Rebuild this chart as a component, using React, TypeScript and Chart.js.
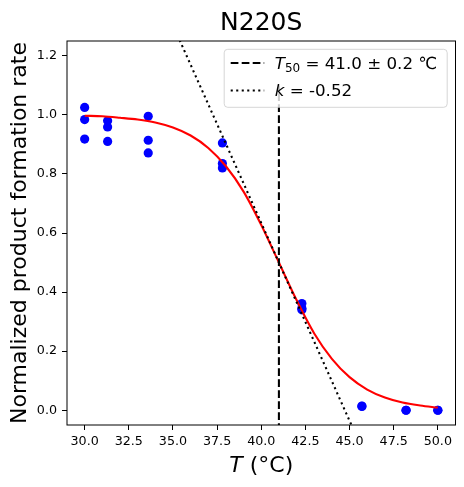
import React, { useEffect, useRef } from "react";
import { Chart, registerables } from "chart.js";

Chart.register(...registerables);

// Measured data (temperature in °C, normalized rate)
const tempPoints = [30, 30, 30, 31.3, 31.3, 31.3, 33.6, 33.6, 33.6, 37.8, 37.8, 37.8, 42.3, 42.3, 42.3, 45.7, 45.7, 48.2, 48.2, 50, 50];
const ratePoints = [1.025, 0.984, 0.918, 0.98, 0.959, 0.91, 0.995, 0.914, 0.871, 0.905, 0.835, 0.82, 0.361, 0.345, 0.34, 0.013, 0.014, 0.0, 0.0, 0.0, 0.0];

// Fitted curve
const fitTemps = [30, 31, 32, 33, 34, 35, 36, 37, 38, 39, 40, 41, 42, 43, 44, 45, 46, 47, 48, 49, 50];
const fitRates = [0.997, 0.995, 0.99, 0.984, 0.974, 0.957, 0.93, 0.888, 0.826, 0.74, 0.627, 0.5, 0.373, 0.26, 0.174, 0.112, 0.07, 0.043, 0.026, 0.016, 0.009];

// T50 marker line and tangent line
const t50Temps = [41.0, 41.0];
const t50Rates = [-0.07, 1.1];
const tangentTemps = [35.25, 45.3];
const tangentRates = [1.27, -0.076];

// Axes
const xRange = [29, 51];
const yRange = [-0.05, 1.25];
const xTicks = [30, 32.5, 35, 37.5, 40, 42.5, 45, 47.5, 50];
const yTicks = [0, 0.2, 0.4, 0.6, 0.8, 1.0, 1.2];

// Text
const titleText = "N220S";
const xLabelVar = "T";
const xLabelUnit = " (°C)";
const yLabelText = "Normalized product formation rate";
const legendT50Value = " = 41.0 ± 0.2 ℃";
const legendKValue = " = -0.52";

const FONT = "'DejaVu Sans', 'Liberation Sans', sans-serif";

const toXY = (xs: number[], ys: number[]) => xs.map((x, i) => ({ x, y: ys[i] }));

const overlayPlugin = {
  id: "mplOverlay",
  afterDraw(chart: any) {
    const ctx: CanvasRenderingContext2D = chart.ctx;
    const a = chart.chartArea;
    ctx.save();

    // frame
    ctx.strokeStyle = "#000";
    ctx.lineWidth = 1;
    ctx.setLineDash([]);
    ctx.strokeRect(a.left, a.top, a.right - a.left, a.bottom - a.top);

    const cx = (a.left + a.right) / 2;
    const cy = (a.top + a.bottom) / 2;

    // title
    ctx.fillStyle = "#000";
    ctx.font = `25px ${FONT}`;
    ctx.textAlign = "center";
    ctx.textBaseline = "alphabetic";
    ctx.fillText(titleText, cx, a.top - 11);

    // x label: italic T + " (°C)"
    ctx.textAlign = "left";
    ctx.font = `italic 22px ${FONT}`;
    const wT = ctx.measureText(xLabelVar).width;
    ctx.font = `22px ${FONT}`;
    const wU = ctx.measureText(xLabelUnit).width;
    const sx = cx - (wT + wU) / 2;
    const xBase = a.bottom + 47;
    ctx.font = `italic 22px ${FONT}`;
    ctx.fillText(xLabelVar, sx, xBase);
    ctx.font = `22px ${FONT}`;
    ctx.fillText(xLabelUnit, sx + wT, xBase);

    // y label
    ctx.save();
    ctx.translate(26, cy);
    ctx.rotate(-Math.PI / 2);
    ctx.textAlign = "center";
    ctx.font = `22px ${FONT}`;
    ctx.fillText(yLabelText, 0, 0);
    ctx.restore();

    // legend
    const right = a.right - 8.3;
    const top = a.top + 8.3;
    const w = 223;
    const h = 58;
    const left = right - w;
    const r = 3.5;
    ctx.beginPath();
    ctx.moveTo(left + r, top);
    ctx.lineTo(right - r, top);
    ctx.quadraticCurveTo(right, top, right, top + r);
    ctx.lineTo(right, top + h - r);
    ctx.quadraticCurveTo(right, top + h, right - r, top + h);
    ctx.lineTo(left + r, top + h);
    ctx.quadraticCurveTo(left, top + h, left, top + h - r);
    ctx.lineTo(left, top + r);
    ctx.quadraticCurveTo(left, top, left + r, top);
    ctx.closePath();
    ctx.fillStyle = "rgba(255,255,255,0.8)";
    ctx.fill();
    ctx.strokeStyle = "rgba(204,204,204,0.8)";
    ctx.lineWidth = 1;
    ctx.stroke();

    const hx0 = left + 6.5;
    const hx1 = hx0 + 33.5;
    const tx = left + 50.5;
    const b1 = top + 20;
    const b2 = top + 47;

    ctx.strokeStyle = "#000";
    ctx.lineWidth = 2.08;
    ctx.setLineDash([7.7, 3.3]);
    ctx.beginPath();
    ctx.moveTo(hx0, b1 - 6.3);
    ctx.lineTo(hx1, b1 - 6.3);
    ctx.stroke();
    ctx.setLineDash([2.08, 3.43]);
    ctx.beginPath();
    ctx.moveTo(hx0, b2 - 5.8);
    ctx.lineTo(hx1, b2 - 5.8);
    ctx.stroke();
    ctx.setLineDash([]);

    ctx.fillStyle = "#000";
    ctx.textAlign = "left";
    ctx.font = `italic 16.7px ${FONT}`;
    ctx.fillText("T", tx, b1);
    let px = tx + ctx.measureText("T").width;
    ctx.font = `12px ${FONT}`;
    ctx.fillText("50", px, b1 + 3);
    px += ctx.measureText("50").width;
    ctx.font = `16.7px ${FONT}`;
    ctx.fillText(legendT50Value, px, b1);

    ctx.font = `italic 16.7px ${FONT}`;
    ctx.fillText("k", tx, b2);
    const kx = tx + ctx.measureText("k").width;
    ctx.font = `16.7px ${FONT}`;
    ctx.fillText(legendKValue, kx, b2);

    ctx.restore();
  },
};

export default function App() {
  const canvasRef = useRef<HTMLCanvasElement | null>(null);

  useEffect(() => {
    document.body.style.margin = "0";
    const canvas = canvasRef.current;
    if (!canvas) return;
    const tickFont = { family: FONT, size: 12.7 };
    const chart = new Chart(canvas, {
      type: "scatter",
      data: {
        datasets: [
          {
            label: "data",
            data: toXY(tempPoints, ratePoints),
            backgroundColor: "#0000ff",
            borderColor: "#0000ff",
            borderWidth: 0,
            pointRadius: 4.6,
            showLine: false,
            order: 4,
          },
          {
            label: "fit",
            data: toXY(fitTemps, fitRates),
            showLine: true,
            borderColor: "#ff0000",
            borderWidth: 2.08,
            pointRadius: 0,
            cubicInterpolationMode: "monotone",
            fill: false,
            order: 3,
          },
          {
            label: "T50",
            data: toXY(t50Temps, t50Rates),
            showLine: true,
            borderColor: "#000",
            borderWidth: 2.08,
            borderDash: [7.7, 3.3],
            pointRadius: 0,
            fill: false,
            order: 2,
          },
          {
            label: "k",
            data: toXY(tangentTemps, tangentRates),
            showLine: true,
            borderColor: "#000",
            borderWidth: 2.08,
            borderDash: [2.08, 3.43],
            pointRadius: 0,
            fill: false,
            order: 1,
          },
        ],
      } as any,
      options: {
        responsive: false,
        animation: false,
        devicePixelRatio: 1,
        layout: { padding: { top: 41, right: 8.5, left: 0, bottom: 0 } },
        plugins: {
          legend: { display: false },
          tooltip: { enabled: false },
          title: { display: false },
        },
        scales: {
          x: {
            type: "linear",
            min: xRange[0],
            max: xRange[1],
            border: { display: false },
            grid: {
              drawOnChartArea: false,
              drawTicks: true,
              tickLength: 5,
              color: "#000",
              tickColor: "#000",
              tickWidth: 1,
            },
            ticks: {
              color: "#000",
              font: tickFont,
              padding: 4,
              maxRotation: 0,
              autoSkip: false,
              callback: (v: any) => Number(v).toFixed(1),
            },
            afterBuildTicks: (scale: any) => {
              scale.ticks = xTicks.map((v) => ({ value: v }));
            },
            afterFit: (scale: any) => {
              scale.height = 62;
            },
          },
          y: {
            type: "linear",
            min: yRange[0],
            max: yRange[1],
            border: { display: false },
            grid: {
              drawOnChartArea: false,
              drawTicks: true,
              tickLength: 5,
              color: "#000",
              tickColor: "#000",
              tickWidth: 1,
            },
            ticks: {
              color: "#000",
              font: tickFont,
              padding: 5,
              autoSkip: false,
              callback: (v: any) => Number(v).toFixed(1),
            },
            afterBuildTicks: (scale: any) => {
              scale.ticks = yTicks.map((v) => ({ value: v }));
            },
            afterFit: (scale: any) => {
              scale.width = 67;
            },
          },
        },
      } as any,
      plugins: [overlayPlugin],
    });
    return () => chart.destroy();
  }, []);

  return (
    <div style={{ position: "absolute", left: 0, top: 0, width: 464, height: 487, background: "#fff" }}>
      <canvas ref={canvasRef} width={464} height={487} style={{ display: "block", width: 464, height: 487 }} />
    </div>
  );
}
